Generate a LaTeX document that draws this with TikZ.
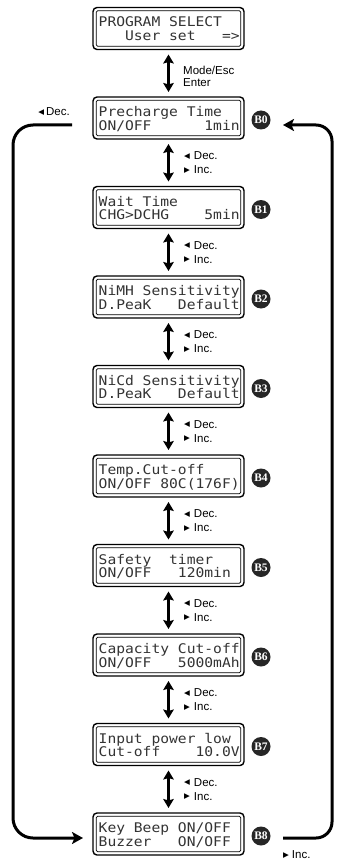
\documentclass[tikz,border=0pt]{standalone}
\usepackage{fontspec}
\setmainfont{Liberation Sans}
\newfontfamily\lcdfont[FakeStretch=1.1]{DejaVu Sans Mono}
\newfontfamily\symfont{DejaVu Sans}
\newfontfamily\badgefont{Liberation Serif}
\usetikzlibrary{arrows.meta}
\tikzset{
 lcd/.style={draw=black, line width=1.4pt, rounded corners=4pt, minimum width=151pt, minimum height=42pt, inner sep=0pt, outer sep=0pt},
 lcdinner/.style={draw=black, line width=0.8pt, rounded corners=1.5pt},
 lcdtext/.style={anchor=base west, inner sep=0pt, font=\lcdfont\fontsize{13.3}{13.3}\selectfont, text=black!80},
 badge/.style={circle, fill=black!85, text=white, minimum size=19pt, inner sep=0pt, font=\badgefont\bfseries\fontsize{11.5}{11.5}\selectfont},
 dbl/.style={line width=2.6pt, {Stealth[length=9pt,width=10.5pt,inset=1.5pt]}-{Stealth[length=9pt,width=10.5pt,inset=1.5pt]}},
 loopline/.style={line width=3pt, -{Stealth[length=11pt,width=12pt,inset=2.5pt]}},
 lbl/.style={anchor=west, inner sep=0pt, font=\fontsize{11.5}{13}\selectfont},
}
\newcommand\tri[1]{\raisebox{1.2pt}{\symfont\fontsize{7.5}{7.5}\selectfont #1}}
\newcommand\mkLcd[4]{%
 \node[lcd] (#1) at (168.5,#2) {};
 \draw[lcdinner] ([xshift=3.2pt,yshift=-3.2pt]#1.north west) rectangle ([xshift=-3.2pt,yshift=3.2pt]#1.south east);
 \node[lcdtext] (#1a) at (98.5,#2-1.5) {#3};
 \node[lcdtext] (#1b) at (98.5,#2+12.3) {#4};
}
\newcommand\mkDecInc[2]{%
 \node[lbl] (#1d) at (184,#2-7) {\tri{◀}\hspace{4pt}Dec.};
 \node[lbl] (#1i) at (184,#2+7) {\tri{▶}\hspace{4pt}Inc.};
}
\begin{document}
\begin{tikzpicture}[x=1pt,y=-1pt]
\useasboundingbox (0,0) rectangle (337,861);
\fill[white] (0,0) rectangle (337,861);

\mkLcd{top}{28.5}{PROGRAM~SELECT}{~~~User~set~~~=>}
\mkLcd{b0}{118}{Precharge~Time}{ON/OFF~~~~~~1min}
\mkLcd{b1}{207.5}{Wait~Time}{CHG>DCHG~~~~5min}
\mkLcd{b2}{297}{NiMH~Sensitivity}{D.PeaK~~~Default}
\mkLcd{b3}{386.5}{NiCd~Sensitivity}{D.PeaK~~~Default}
\mkLcd{b4}{476}{Temp.Cut-off}{ON/OFF~80C(176F)}
\mkLcd{b5}{565.5}{Safety~~timer}{ON/OFF~~~120min}
\mkLcd{b6}{655}{Capacity~Cut-off}{ON/OFF~~~5000mAh}
\mkLcd{b7}{744.5}{Input~power~low}{Cut-off~~~~10.0V}
\mkLcd{b8}{834}{Key~Beep~ON/OFF}{Buzzer~~~ON/OFF}

\node[badge] (g0) at (261,120) {B0};
\node[badge] (g1) at (261,209.5) {B1};
\node[badge] (g2) at (261,299) {B2};
\node[badge] (g3) at (261,388.5) {B3};
\node[badge] (g4) at (261,478) {B4};
\node[badge] (g5) at (261,567.5) {B5};
\node[badge] (g6) at (261,657) {B6};
\node[badge] (g7) at (261,746.5) {B7};
\node[badge] (g8) at (261,836) {B8};

\draw[dbl] ([yshift=-5pt]top.south) -- ([yshift=5pt]b0.north);
\draw[dbl] ([yshift=-5pt]b0.south) -- ([yshift=5pt]b1.north);
\draw[dbl] ([yshift=-5pt]b1.south) -- ([yshift=5pt]b2.north);
\draw[dbl] ([yshift=-5pt]b2.south) -- ([yshift=5pt]b3.north);
\draw[dbl] ([yshift=-5pt]b3.south) -- ([yshift=5pt]b4.north);
\draw[dbl] ([yshift=-5pt]b4.south) -- ([yshift=5pt]b5.north);
\draw[dbl] ([yshift=-5pt]b5.south) -- ([yshift=5pt]b6.north);
\draw[dbl] ([yshift=-5pt]b6.south) -- ([yshift=5pt]b7.north);
\draw[dbl] ([yshift=-5pt]b7.south) -- ([yshift=5pt]b8.north);

\node[lbl] (me) at (183,70) {Mode/Esc};
\node[lbl] (en) at (183,83) {Enter};
\mkDecInc{s0}{162.75}
\mkDecInc{s1}{252.25}
\mkDecInc{s2}{341.75}
\mkDecInc{s3}{431.25}
\mkDecInc{s4}{520.75}
\mkDecInc{s5}{610.25}
\mkDecInc{s6}{699.75}
\mkDecInc{s7}{789.25}

\coordinate (ls) at (72,125);
\coordinate (le) at (83,838);
\draw[loopline, rounded corners=20pt] (ls) -- (13,125) -- (13,838) -- (le);
\coordinate (rs) at (283,838);
\coordinate (re) at (283,125);
\draw[loopline, rounded corners=16pt] (rs) -- (332,838) -- (332,125) -- (re);

\node[lbl, anchor=east] (ldec) at (70,112) {\tri{◀}\hspace{2pt}Dec.};
\node[lbl] (rinc) at (283,855) {\tri{▶}\hspace{3pt}Inc.};
\end{tikzpicture}
\end{document}
